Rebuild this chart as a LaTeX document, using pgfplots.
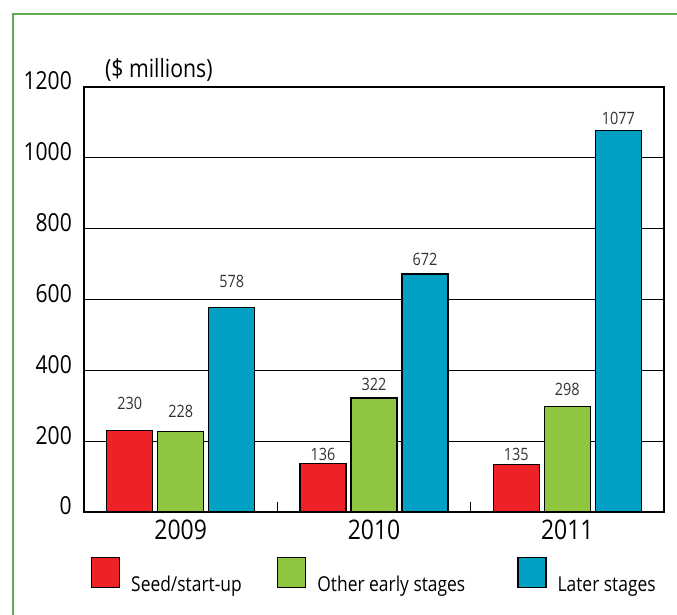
\documentclass[border=0pt]{standalone}
\usepackage{fontspec}
\setmainfont{Open Sans}[FakeStretch=0.85]
\usepackage{pgfplots}
\usepackage{pgfplotstable}
\pgfplotsset{compat=1.18}

\definecolor{seedred}{RGB}{237,34,39}
\definecolor{earlygreen}{RGB}{143,198,63}
\definecolor{laterblue}{RGB}{3,160,198}
\definecolor{framegreen}{RGB}{95,170,78}

% x = year index, y = value ($ millions), off = label lift above the bar (pt)
\pgfplotstableread{
x y off
0 230 21
1 136 3
2 135 4
}\seedtab
\pgfplotstableread{
x y off
0 228 14
1 322 7
2 298 11
}\earlytab
\pgfplotstableread{
x y off
0 578 20
1 672 9
2 1077 6
}\latertab

\pgfplotsset{
  legbox/.style={legend image code/.code={%
    \draw[##1, line width=1.2pt] (0pt,-3pt) rectangle (28pt,27pt);}},
}

\begin{document}
\begin{tikzpicture}
\draw[framegreen, line width=2.6pt] (13pt,-30pt) rectangle (720pt,600pt);
\begin{axis}[
  at={(84pt,102pt)}, anchor=south west,
  scale only axis, width=580pt, height=425pt,
  xmin=-0.5, xmax=2.5, ymin=0, ymax=1200,
  ybar=5pt, bar width=46pt,
  xtick={0,1,2}, xticklabels={2009,2010,2011},
  minor xtick={0.5,1.5},
  ytick={0,200,...,1200},
  xtick pos=bottom, ytick pos=left,
  major tick length=0pt, minor tick length=10pt, tick align=inside,
  minor tick style={black, line width=1pt},
  ymajorgrids, grid style={black, line width=1.3pt},
  axis line style={black, line width=1.4pt},
  /pgf/number format/assume math mode=true,
  /pgf/number format/1000 sep={},
  yticklabel style={font=\fontsize{24.8}{26}\selectfont, inner sep=0pt,
    anchor=east, xshift=-12pt, yshift=6pt},
  xticklabel style={font=\fontsize{27}{29}\selectfont, inner sep=0pt,
    anchor=north, yshift=-8pt},
  nodes near coords,
  nodes near coords align={anchor=base},
  visualization depends on={\thisrow{off} \as \labeloff},
  every node near coord/.append style={font=\fontsize{17}{18}\selectfont,
    color=black!80, anchor=base, inner sep=0pt, yshift=\labeloff pt},
  legend columns=3,
  legend style={draw=none, fill=none, inner sep=0pt, outer sep=0pt,
    font=\fontsize{20.5}{22}\selectfont,
    at={(axis description cs:0.01207,-0.10588)}, anchor=north west,
    /tikz/every odd column/.append style={column sep=11pt},
    nodes={inner sep=0pt}},
  clip=false,
]
\addplot[fill=seedred, draw=black, line width=1.2pt, legbox] table[x=x, y=y] {\seedtab};
\addplot[fill=earlygreen, draw=black, line width=1.2pt, legbox] table[x=x, y=y] {\earlytab};
\addplot[fill=laterblue, draw=black, line width=1.2pt, legbox] table[x=x, y=y] {\latertab};
\legend{{\makebox[146pt][l]{Seed/start-up}},{\makebox[200pt][l]{Other early stages}},{Later stages}}
\node[anchor=base west, font=\fontsize{25}{27}\selectfont, inner sep=0pt]
  at (axis description cs:0.036,1.0235) {(\$ millions)};
\end{axis}
\pgfresetboundingbox
\useasboundingbox (0,0) rectangle (677pt,614pt);
\end{tikzpicture}
\end{document}
